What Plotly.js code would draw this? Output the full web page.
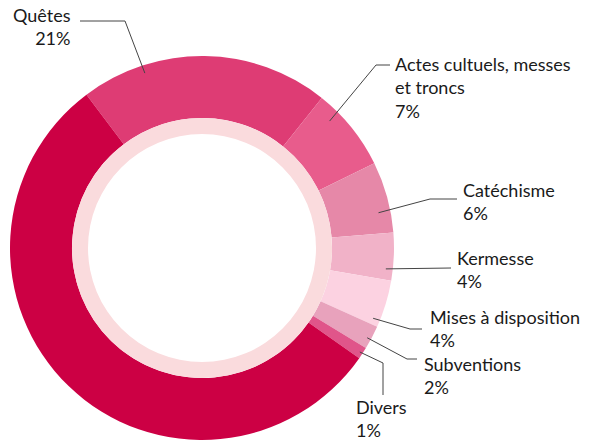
<!DOCTYPE html>
<html>
<head>
<meta charset="utf-8">
<script src="https://cdn.plot.ly/plotly-3.0.1.min.js"></script>
<style>
  html, body { margin: 0; padding: 0; background: #fff; }
  #chart { width: 594px; height: 441px; }
</style>
</head>
<body>
<div id="chart"></div>
<script>
// ---- data ----
const categories = ['Quêtes', 'Actes cultuels, messes et troncs', 'Catéchisme', 'Kermesse',
  'Mises à disposition', 'Subventions', 'Divers', 'Autres ressources'];
const values = [21, 7, 6, 4, 4, 2, 1, 55];
const displayLabels = ['Quêtes', 'Actes cultuels, messes<br>et troncs', 'Catéchisme', 'Kermesse',
  'Mises à disposition', 'Subventions', 'Divers', ''];
const colors = ['#DE3C74', '#E85C8C', '#E688A8', '#F1B2C8', '#FCD2E1', '#E8A2BC', '#E0558A', '#CC0044'];

// ---- geometry (pixels) ----
const W = 594, H = 441;
const cx = 202, cy = 248, R = 192, rHole = 130, rInner = 114;
const rotation = -37;

// label layout: position of anchor inside slice (fraction of slice span, radius),
// leader elbow / end and text placement
const labelLayout = [
  {frac: 0.25, r: 184, elbow: [125, 21], end: [80, 21], tx: 72, ty: 26, xa: 'right'},
  {frac: 0.26, r: 180, elbow: [376, 65], end: [390, 65], tx: 394, ty: 87, xa: 'left'},
  {frac: 0.69, r: 180, elbow: [430, 199], end: [457, 199], tx: 462, ty: 201, xa: 'left'},
  {frac: 0.77, r: 185, elbow: [451, 268], end: [451, 268], tx: 456, ty: 269, xa: 'left'},
  {frac: 0.87, r: 185, elbow: [410, 329], end: [422, 329], tx: 429, ty: 328, xa: 'left'},
  {frac: 0.60, r: 188, elbow: [407, 359], end: [417, 359], tx: 423, ty: 375, xa: 'left'},
  {frac: 0.55, r: 189, elbow: [383, 363], end: [383, 395], tx: 355, ty: 418, xa: 'left'}
];

const px = x => x / W;
const py = y => 1 - y / H;

const total = values.reduce((a, b) => a + b, 0);
let cum = 0;
const shapes = [];
const annotations = [];
values.forEach((v, i) => {
  const start = rotation + cum / total * 360;
  const span = v / total * 360;
  cum += v;
  const L = labelLayout[i];
  if (!L) return;
  const ang = (start + L.frac * span) * Math.PI / 180;
  const ax = cx + L.r * Math.sin(ang);
  const ay = cy - L.r * Math.cos(ang);
  shapes.push({
    type: 'path', xref: 'paper', yref: 'paper',
    path: `M ${px(ax)} ${py(ay)} L ${px(L.elbow[0])} ${py(L.elbow[1])} L ${px(L.end[0])} ${py(L.end[1])}`,
    line: {color: '#444', width: 1}
  });
  annotations.push({
    xref: 'paper', yref: 'paper', x: px(L.tx), y: py(L.ty),
    xanchor: L.xa, yanchor: 'middle', align: L.xa,
    showarrow: false, borderpad: 0,
    text: displayLabels[i] + '<br>' + v + '%',
    font: {family: 'Lato, "Open Sans", sans-serif', size: 18, color: '#1a1a1a'}
  });
});

const outer = {
  type: 'pie', values: values, labels: categories, sort: false,
  direction: 'clockwise', rotation: rotation, hole: rHole / R,
  marker: {colors: colors, line: {width: 0}},
  textinfo: 'none', hoverinfo: 'none',
  domain: {x: [px(cx - R), px(cx + R)], y: [py(cy + R), py(cy - R)]}
};
const ring = {
  type: 'pie', values: [1], labels: ['ring'], sort: false,
  hole: rInner / rHole,
  marker: {colors: ['#FADBDD'], line: {width: 0}},
  textinfo: 'none', hoverinfo: 'none',
  domain: {x: [px(cx - rHole), px(cx + rHole)], y: [py(cy + rHole), py(cy - rHole)]}
};

Plotly.newPlot('chart', [outer, ring], {
  width: W, height: H,
  margin: {l: 0, r: 0, t: 0, b: 0},
  showlegend: false,
  paper_bgcolor: '#fff',
  shapes: shapes,
  annotations: annotations
}, {displayModeBar: false, staticPlot: true});
</script>
</body>
</html>
